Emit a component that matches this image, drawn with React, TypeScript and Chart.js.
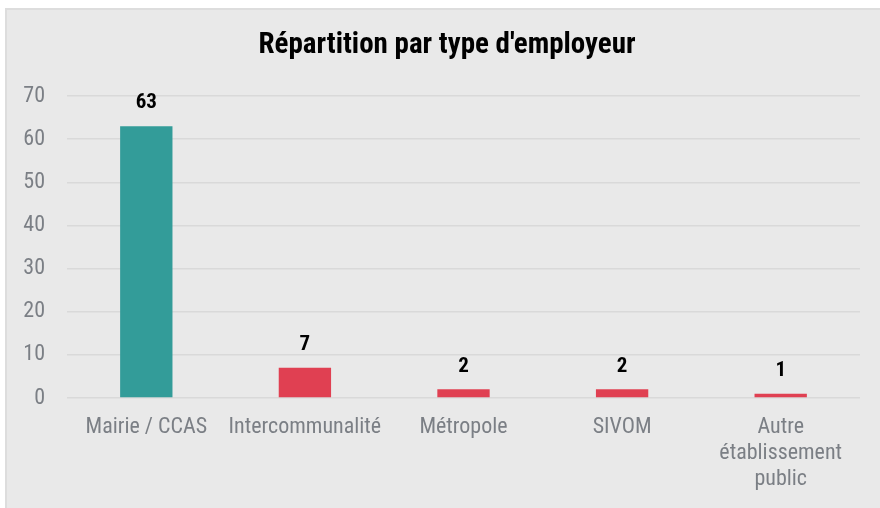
import React, { useEffect, useRef } from "react";
import { Chart, registerables } from "chart.js";

Chart.register(...registerables);

const categories: (string | string[])[] = [
  "Mairie / CCAS",
  "Intercommunalité",
  "Métropole",
  "SIVOM",
  ["Autre", "établissement", "public"],
];
const values: number[] = [63, 7, 2, 2, 1];
const barColors: string[] = ["#339c99", "#e04052", "#e04052", "#e04052", "#e04052"];
const yMin = 0;
const yMax = 70;
const yStep = 10;
const titleText = "Répartition par type d'employeur";

const FONT = "'Liberation Sans Narrow', 'Arial Narrow', 'Roboto Condensed', 'Liberation Sans', sans-serif";

const valueLabels = {
  id: "valueLabels",
  afterDatasetsDraw(chart: any) {
    const ctx = chart.ctx;
    const meta = chart.getDatasetMeta(0);
    ctx.save();
    ctx.font = `bold 21px ${FONT}`;
    ctx.fillStyle = "#000000";
    ctx.textAlign = "center";
    ctx.textBaseline = "middle";
    meta.data.forEach((bar: any, i: number) => {
      ctx.fillText(String(values[i]), bar.x, bar.y - 23);
    });
    ctx.restore();
  },
};

const titleDraw = {
  id: "titleDraw",
  afterDraw(chart: any) {
    const ctx = chart.ctx;
    ctx.save();
    ctx.font = `bold 29px ${FONT}`;
    ctx.fillStyle = "#000000";
    ctx.textAlign = "center";
    ctx.textBaseline = "middle";
    ctx.fillText(titleText, 440, 36);
    ctx.restore();
  },
};

export default function App() {
  const ref = useRef<HTMLCanvasElement | null>(null);
  useEffect(() => {
    if (!ref.current) return;
    const chart = new Chart(ref.current, {
      type: "bar",
      data: {
        labels: categories,
        datasets: [
          {
            data: values,
            backgroundColor: barColors,
            barPercentage: 0.33,
            categoryPercentage: 1,
          },
        ],
      },
      options: {
        animation: false,
        responsive: false,
        maintainAspectRatio: false,
        layout: { padding: { left: 0, right: 20, top: 86, bottom: 0 } },
        plugins: {
          legend: { display: false },
          tooltip: { enabled: false },
          title: { display: false },
        },
        scales: {
          x: {
            afterFit: (scale: any) => {
              scale.height = 110;
            },
            grid: { display: false },
            border: { display: false },
            ticks: {
              color: "#7b7f85",
              font: { family: FONT, size: 22, lineHeight: 1.18 },
              padding: 9,
              maxRotation: 0,
              autoSkip: false,
            },
          },
          y: {
            min: yMin,
            max: yMax,
            afterFit: (scale: any) => {
              scale.width = 60;
            },
            grid: { color: "#d9d9d9", lineWidth: 1.5, drawTicks: false },
            border: { display: false },
            ticks: {
              stepSize: yStep,
              color: "#7b7f85",
              font: { family: FONT, size: 22 },
              padding: 22,
            },
          },
        },
      },
      plugins: [valueLabels, titleDraw],
    });
    return () => chart.destroy();
  }, []);

  return (
    <div style={{ position: "fixed", left: 0, top: 0, width: 880, height: 508, background: "#ffffff" }}>
      <div
        style={{
          position: "absolute",
          left: 5,
          top: 8,
          width: 875,
          height: 500,
          background: "#e9e9e9",
          borderLeft: "2px solid #dddddd",
          borderTop: "2px solid #dddddd",
          boxSizing: "border-box",
        }}
      >
        <canvas ref={ref} width={873} height={498} style={{ display: "block" }} />
      </div>
    </div>
  );
}
